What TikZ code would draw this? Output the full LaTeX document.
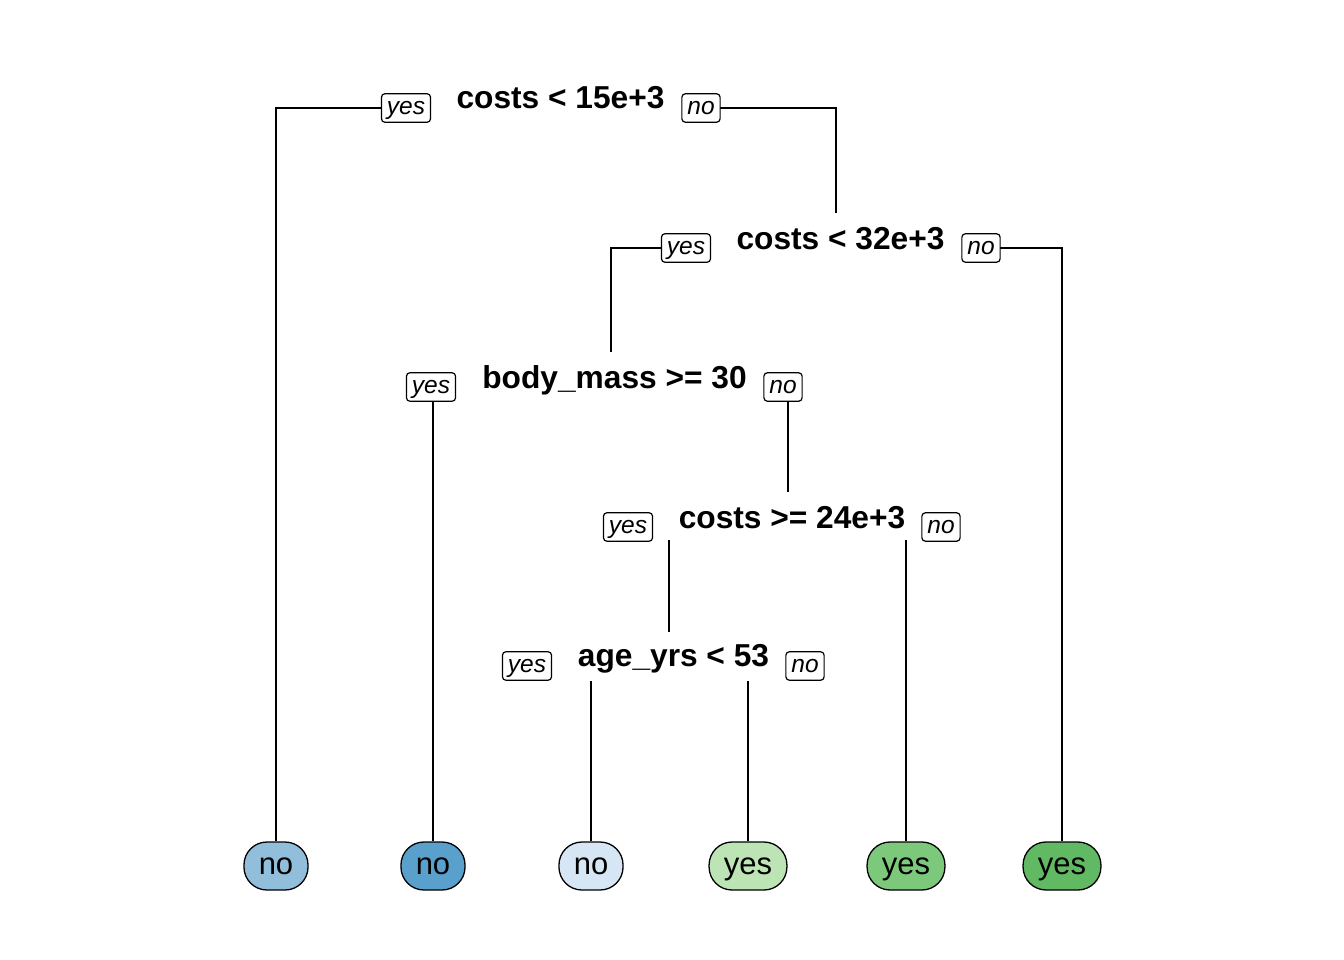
\documentclass[tikz,border=0pt]{standalone}
\usepackage{fontspec}
\setmainfont{Liberation Sans}
\definecolor{lfA}{HTML}{91BFDB}
\definecolor{lfB}{HTML}{5AA0CD}
\definecolor{lfC}{HTML}{D6E6F4}
\definecolor{lfD}{HTML}{BCE4B5}
\definecolor{lfE}{HTML}{7CC97B}
\definecolor{lfF}{HTML}{62B963}
\tikzset{
  edge/.style={line width=1.3pt, black},
  splitlbl/.style={font=\fontsize{31.7}{36}\selectfont\bfseries, anchor=base, inner sep=0pt},
  yn/.style={draw, line width=1.2pt, fill=white, rounded corners=3.5pt, font=\fontsize{24.5}{28}\selectfont\itshape,
    inner xsep=5.5pt, inner ysep=1pt, text height=19.5pt, text depth=7pt},
  leaf/.style={draw, line width=1.3pt, rounded corners=23pt, minimum height=48pt, inner xsep=14.8pt, inner ysep=0pt,
    font=\fontsize{31}{34}\selectfont, text height=16pt, text depth=0pt}
}
\begin{document}
\begin{tikzpicture}[x=1pt,y=-1pt]
\useasboundingbox (0,0) rectangle (1344,960);
% split labels
\node[splitlbl] (n1) at (560.5,109) {costs < 15e+3};
\node[splitlbl] (n2) at (840.5,249) {costs < 32e+3};
\node[splitlbl] (n3) at (614.5,388) {body\_mass >= 30};
\node[splitlbl] (n4) at (792,528) {costs >= 24e+3};
\node[splitlbl] (n5) at (673.5,666) {age\_yrs < 53};
% leaves
\node[leaf, fill=lfA] (l1) at (276,866) {no};
\node[leaf, fill=lfB] (l2) at (433,866) {no};
\node[leaf, fill=lfC] (l3) at (591,866) {no};
\node[leaf, fill=lfD] (l4) at (748,866) {yes};
\node[leaf, fill=lfE] (l5) at (906,866) {yes};
\node[leaf, fill=lfF] (l6) at (1062,866) {yes};
% free ends
\coordinate (t2) at (836,213);
\coordinate (t3) at (611,352);
\coordinate (t4) at (788,492);
\coordinate (t5) at (669,632);
\coordinate (s4y) at (669,540);
\coordinate (s4n) at (906,540);
\coordinate (s5y) at (591,681);
\coordinate (s5n) at (748,681);
% yes/no tag positions (line level)
\path (406,108) coordinate (py1) (701,108) coordinate (pn1)
      (686,248) coordinate (py2) (981,248) coordinate (pn2)
      (431,387) coordinate (py3) (783,387) coordinate (pn3)
      (628,527) coordinate (py4) (941,527) coordinate (pn4)
      (527,666) coordinate (py5) (805,666) coordinate (pn5);
% connectors
\draw[edge] (py1) -| (l1.north);
\draw[edge] (pn1) -| (t2);
\draw[edge] (py2) -| (t3);
\draw[edge] (pn2) -| (l6.north);
\draw[edge] (py3 -| l2.north) -- (l2.north);
\draw[edge] (pn3 -| t4) -- (t4);
\draw[edge] (s4y) -- (t5);
\draw[edge] (s4n) -- (l5.north);
\draw[edge] (s5y) -- (l3.north);
\draw[edge] (s5n) -- (l4.north);
% tags drawn over
\begin{scope}[yshift=1.5pt]
\node[yn] (y1) at (py1) {yes};
\node[yn] (no1) at (pn1) {no};
\node[yn] (y2) at (py2) {yes};
\node[yn] (no2) at (pn2) {no};
\node[yn] (y3) at (py3) {yes};
\node[yn] (no3) at (pn3) {no};
\node[yn] (y4) at (py4) {yes};
\node[yn] (no4) at (pn4) {no};
\node[yn] (y5) at (py5) {yes};
\node[yn] (no5) at (pn5) {no};
\end{scope}
\end{tikzpicture}
\end{document}
